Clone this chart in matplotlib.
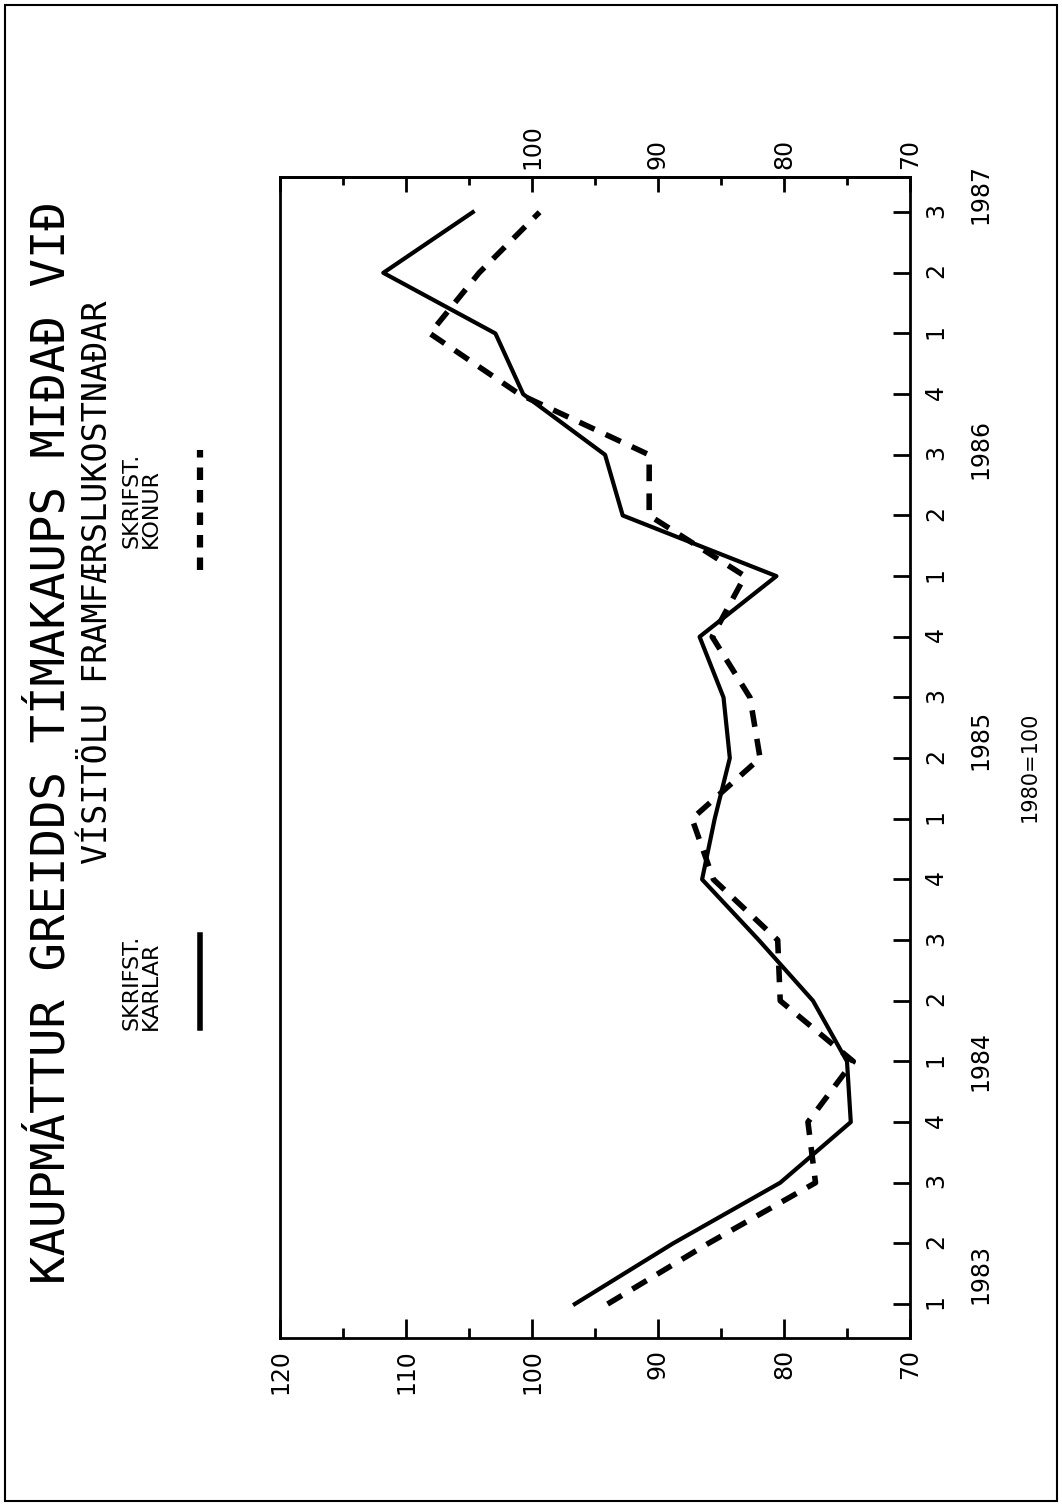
# Kaupmáttur greidds tímakaups, skrifstofufólk 1983-1987 (1980=100)
# myndin er snúin 90 gráður eins og í frumritinu
import numpy as np
import matplotlib
matplotlib.use("Agg")
import matplotlib.pyplot as plt
from matplotlib import transforms
from matplotlib.lines import Line2D
from matplotlib.patches import Rectangle

quarters = ['1', '2', '3', '4'] * 4 + ['1', '2', '3']
years = ['1983', '1984', '1985', '1986', '1987']
karlar = [96.6, 88.8, 80.3, 74.7, 75.0, 77.7, 82.0, 86.5, 85.5, 84.3,
          84.8, 86.7, 80.6, 92.8, 94.2, 100.7, 102.9, 111.8, 104.7]
konur = [94.0, 86.0, 77.5, 78.1, 74.5, 80.3, 80.5, 85.6, 87.3, 81.9,
         82.7, 85.7, 83.1, 90.7, 90.7, 101.0, 108.1, 104.2, 99.4]
left_ticks = [120, 110, 100, 90, 80, 70]
right_ticks = [100, 90, 80, 70]

W, H = 1062, 1505
fig = plt.figure(figsize=(W / 100, H / 100), dpi=100)
fig.patch.set_facecolor('white')

# ramminn utan um alla myndina
fig.patches.append(Rectangle((5 / W, 4 / H), 1052 / W, 1496 / H, transform=fig.transFigure,
                             fill=False, lw=1.5, ec='black'))

ax = fig.add_axes([280 / W, (H - 1338) / H, 630 / W, 1161 / H])
idx = np.arange(len(karlar))

ax.plot(karlar, idx, color='black', lw=3)
ax.plot(konur, idx, color='black', lw=4, dashes=(3.0, 2.2))

ax.set_xlim(120, 70)
ax.set_ylim(-0.56, 18.58)
for s in ax.spines.values():
    s.set_linewidth(2)

fs = 17
ax.set_xticks(left_ticks, [str(v) for v in left_ticks])
ax.set_xticks(np.arange(70, 121, 5), minor=True)
ax.tick_params(axis='x', which='major', direction='in', length=14, width=2,
               labelsize=fs, labelrotation=90, pad=8, top=False)
ax.tick_params(axis='x', which='minor', direction='in', length=7, width=2, top=False)

top = ax.secondary_xaxis('top')
top.set_xticks(left_ticks, ['', ''] + [str(v) for v in right_ticks])
top.set_xticks(np.arange(70, 121, 5), minor=True)
top.tick_params(axis='x', which='major', direction='in', length=11, width=2,
                labelsize=fs, labelrotation=90, pad=6)
top.tick_params(axis='x', which='minor', direction='in', length=6, width=2)
top.spines['top'].set_linewidth(2)

ax.yaxis.tick_right()
ax.set_yticks(idx, quarters)
ax.tick_params(axis='y', direction='in', length=12, width=2, left=False, right=True,
               labelright=True, labelleft=False, labelsize=fs, labelrotation=90, pad=10)

# ártöl og grunnur
tr = transforms.blended_transform_factory(ax.transAxes, ax.transData)
year_at = [0.5, 4.0, 9.3, 14.1, 18.3]
for y, pos in zip(years, year_at):
    ax.text((980 - 280) / 630, pos, y, transform=tr, rotation=90, ha='center', va='center',
            fontsize=fs)
ax.text((1030 - 280) / 630, 8.85, '1980=100', transform=tr, rotation=90, ha='center',
        va='center', fontsize=15)

# fyrirsögn
fig.text(52 / W, 1 - 742 / H, 'KAUPMÁTTUR GREIDDS TÍMAKAUPS MIÐAÐ VIÐ', rotation=90,
         ha='center', va='center', fontsize=34, family='DejaVu Sans Mono')
fig.text(98 / W, 1 - 582 / H, 'VÍSITÖLU FRAMFÆRSLUKOSTNAÐAR', rotation=90,
         ha='center', va='center', fontsize=24, family='DejaVu Sans Mono')

# skýringar
fig.text(141 / W, 1 - 1030 / H, 'SKRIFST.\nKARLAR', rotation=90, ha='center', va='bottom',
         multialignment='left', fontsize=16, linespacing=0.95)
fig.text(141 / W, 1 - 548 / H, 'SKRIFST.\nKONUR', rotation=90, ha='center', va='bottom',
         multialignment='left', fontsize=16, linespacing=0.95)
fig.lines.append(Line2D([200 / W, 200 / W], [1 - 1028 / H, 1 - 935 / H],
                        transform=fig.transFigure, color='black', lw=4))
fig.lines.append(Line2D([200 / W, 200 / W], [1 - 570 / H, 1 - 450 / H],
                        transform=fig.transFigure, color='black', lw=4.5, dashes=(2.0, 1.6)))

fig.savefig('out.png', dpi=100)
